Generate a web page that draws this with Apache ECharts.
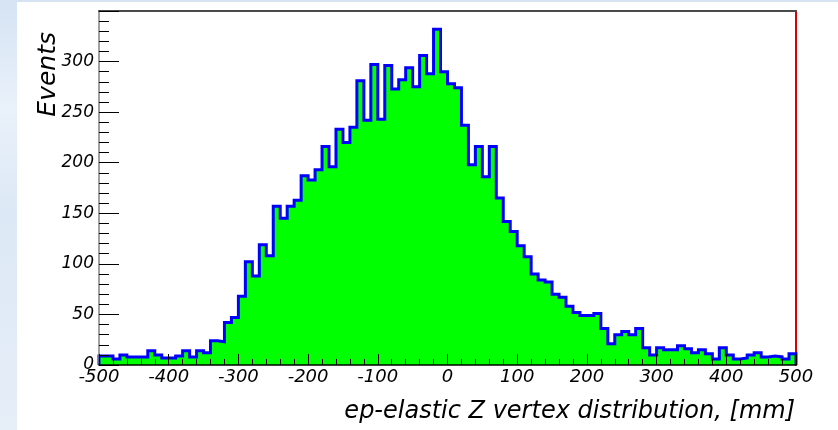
<!DOCTYPE html>
<html>
<head>
<meta charset="utf-8">
<script src="https://cdn.jsdelivr.net/npm/echarts@6/dist/echarts.min.js"></script>
<style>
  html, body { margin: 0; padding: 0; background: #ffffff; }
  #chart { width: 838px; height: 430px; }
</style>
</head>
<body>
<div id="chart"></div>
<script>
// Histogram binning: 100 bins of 10 mm between -500 and 500 mm
const xMin = -500;
const xMax = 500;
const binWidth = 10;

// Events per bin, left to right
const counts = [
  9, 9, 6, 10, 8, 8, 8, 14, 10, 7,
  7, 9, 14, 8, 14, 12, 24, 23, 42, 47,
  68, 102, 88, 119, 108, 157, 145, 157, 163, 187,
  183, 193, 216, 196, 233, 220, 235, 281, 242, 297,
  243, 296, 273, 282, 294, 275, 306, 288, 332, 290,
  278, 274, 237, 198, 216, 186, 216, 165, 142, 132,
  118, 107, 90, 84, 82, 70, 67, 58, 52, 49,
  49, 51, 36, 21, 30, 33, 30, 36, 17, 10,
  17, 15, 15, 19, 16, 12, 15, 11, 6, 17,
  10, 6, 7, 10, 12, 8, 9, 8, 6, 11
];

// Axis ranges and tick spacing
const yMax = 350;
const xTickStep = 100;
const yTickStep = 50;

const xTitle = 'ep-elastic Z vertex distribution, [mm]';
const yTitle = 'Events';

// Outline of the histogram as a stepped path: up from zero at the first edge,
// across each bin, and back down to zero at the last edge
const outline = [[xMin, 0]];
counts.forEach((c, i) => outline.push([xMin + i * binWidth, c]));
outline.push([xMax, counts[counts.length - 1]]);
outline.push([xMax, 0]);

const labelFont = { fontFamily: 'DejaVu Sans', fontStyle: 'italic', color: '#000' };

const chart = echarts.init(document.getElementById('chart'), null, { renderer: 'canvas' });

chart.setOption({
  animation: false,
  backgroundColor: {
    type: 'linear', x: 0, y: 0, x2: 0, y2: 1,
    colorStops: [
      { offset: 0, color: '#d5e3f3' },
      { offset: 0.25, color: '#e9f1fa' },
      { offset: 0.5, color: '#dce8f5' },
      { offset: 1, color: '#e6eef8' }
    ]
  },
  graphic: [
    {
      type: 'rect', z: -10, silent: true,
      shape: { x: 17, y: 2, width: 821, height: 428 },
      style: { fill: '#ffffff' }
    },
    {
      type: 'text', z: 10, silent: true,
      x: 48, y: 32, rotation: Math.PI / 2,
      style: {
        text: yTitle, align: 'right', verticalAlign: 'middle',
        font: 'italic 25px "DejaVu Sans"', fill: '#000'
      }
    },
    {
      type: 'text', z: 10, silent: true,
      x: 795, y: 412,
      style: {
        text: xTitle, align: 'right', verticalAlign: 'middle',
        font: 'italic 24px "DejaVu Sans"', fill: '#000'
      }
    }
  ],
  grid: { left: 99, right: 42, top: 11, bottom: 65, containLabel: false },
  xAxis: [
    {
      type: 'value', min: xMin, max: xMax, interval: xTickStep, z: 5,
      axisLine: { show: true, onZero: false, lineStyle: { color: '#000', width: 1.5 } },
      axisTick: { show: true, inside: true, length: 11, lineStyle: { color: '#000', width: 1 } },
      minorTick: { show: true, splitNumber: 5, length: 6, lineStyle: { color: '#000', width: 1 } },
      axisLabel: Object.assign({ fontSize: 18, margin: 3 }, labelFont),
      splitLine: { show: false }
    },
    {
      type: 'value', position: 'top', min: xMin, max: xMax, z: 5,
      axisLine: { show: true, onZero: false, lineStyle: { color: '#4a4a4a', width: 2 } },
      axisTick: { show: false }, axisLabel: { show: false }, splitLine: { show: false }
    }
  ],
  yAxis: [
    {
      type: 'value', min: 0, max: yMax, interval: yTickStep, z: 5,
      axisLine: { show: true, onZero: false, lineStyle: { color: '#808080', width: 1.5 } },
      axisTick: { show: true, inside: true, length: 20, lineStyle: { color: '#000', width: 1 } },
      minorTick: { show: true, splitNumber: 5, length: 10, lineStyle: { color: '#000', width: 1 } },
      axisLabel: Object.assign({ fontSize: 17, margin: 5, showMaxLabel: false }, labelFont),
      splitLine: { show: false }
    },
    {
      type: 'value', position: 'right', min: 0, max: yMax, z: 0,
      axisLine: { show: true, onZero: false, lineStyle: { color: '#dd0000', width: 2 } },
      axisTick: { show: false }, axisLabel: { show: false }, splitLine: { show: false }
    }
  ],
  series: [
    {
      type: 'line',
      xAxisIndex: 0, yAxisIndex: 0,
      data: outline,
      step: 'end',
      symbol: 'none',
      z: 2,
      lineStyle: { color: '#0000ff', width: 3, join: 'miter' },
      areaStyle: { color: '#00ff00', opacity: 1 }
    }
  ]
});
</script>
</body>
</html>
